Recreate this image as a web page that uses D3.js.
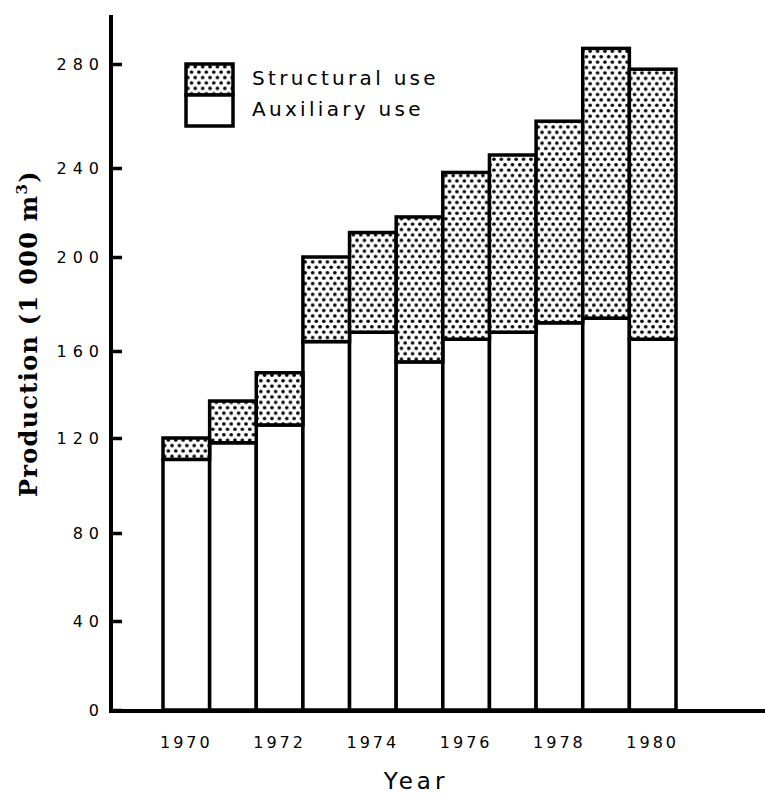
<!DOCTYPE html>
<html>
<head>
<meta charset="utf-8">
<script src="https://cdn.jsdelivr.net/npm/d3@7"></script>
<style>
  body { margin: 0; background: #fff; }
  svg { display: block; }
</style>
</head>
<body>
<div id="chart"></div>
<script>
// Timber production by use, 1970-1980 (1 000 m3)
const years = [1970, 1971, 1972, 1973, 1974, 1975, 1976, 1977, 1978, 1979, 1980];
const auxiliary = [111, 118, 126, 164, 168, 155, 165, 168, 172, 174, 165];
const structural = [9, 19, 24, 36, 43, 63, 73, 77, 86, 112, 113];
const yTicks = [0, 40, 80, 120, 160, 200, 240, 280];
const yearLabels = [1970, 1972, 1974, 1976, 1978, 1980];
const legendNames = ["Structural use", "Auxiliary use"];

function drawChart(containerId = "#chart") {
    const width = 765;
    const height = 796;

    const svg = d3.select(containerId)
        .html("")
        .append("svg")
        .attr("width", width)
        .attr("height", height);

    svg.append("rect")
        .attr("width", width)
        .attr("height", height)
        .attr("fill", "#fff");

    // dotted screen used for structural use
    const pattern = svg.append("defs")
        .append("pattern")
        .attr("id", "dots")
        .attr("patternUnits", "userSpaceOnUse")
        .attr("width", 7.4)
        .attr("height", 10.8);
    pattern.append("rect")
        .attr("width", 7.4)
        .attr("height", 10.8)
        .attr("fill", "#fff");
    pattern.append("circle").attr("cx", 1.85).attr("cy", 2.7).attr("r", 1.8).attr("fill", "#000");
    pattern.append("circle").attr("cx", 5.55).attr("cy", 8.1).attr("r", 1.8).attr("fill", "#000");

    const table = years.map((year, i) => ({
        year,
        auxiliary: auxiliary[i],
        structural: structural[i]
    }));

    const stacked = d3.stack().keys(["auxiliary", "structural"])(table);

    const x = d3.scaleBand()
        .domain(years)
        .range([163, 676])
        .padding(0);

    // the printed axis is not evenly spaced, so map each tick to where it sits
    const y = d3.scaleLinear()
        .domain(yTicks)
        .range([710, 621, 533, 438, 351, 257, 168, 64]);

    // Bars
    svg.append("g")
        .selectAll("g")
        .data(stacked)
        .join("g")
        .attr("fill", d => d.key === "structural" ? "url(#dots)" : "#fff")
        .selectAll("rect")
        .data(d => d)
        .join("rect")
        .attr("x", d => x(d.data.year))
        .attr("y", d => y(d[1]))
        .attr("width", x.bandwidth())
        .attr("height", d => y(d[0]) - y(d[1]))
        .attr("stroke", "#000")
        .attr("stroke-width", 3.5);

    // Y axis
    const yAxis = svg.append("g")
        .attr("transform", "translate(111,0)")
        .call(d3.axisLeft(y).tickValues(yTicks).tickSize(-11).tickPadding(6));
    yAxis.select(".domain").remove();
    yAxis.selectAll(".tick line")
        .attr("stroke", "#000")
        .attr("stroke-width", 3.5);
    yAxis.selectAll(".tick text")
        .attr("fill", "#000")
        .style("font-family", "'DejaVu Sans', sans-serif")
        .style("font-size", "16px")
        .style("letter-spacing", "6px");

    svg.append("line")
        .attr("x1", 111).attr("x2", 111)
        .attr("y1", 15).attr("y2", 712)
        .attr("stroke", "#000")
        .attr("stroke-width", 4);

    // X axis
    const xAxis = svg.append("g")
        .attr("transform", "translate(0,710)")
        .call(d3.axisBottom(x).tickValues(yearLabels).tickSize(0));
    xAxis.select(".domain").remove();
    xAxis.selectAll(".tick text")
        .attr("fill", "#000")
        .attr("dy", null)
        .attr("y", 38)
        .style("font-family", "'DejaVu Sans', sans-serif")
        .style("font-size", "16px")
        .style("letter-spacing", "3px");

    svg.append("line")
        .attr("x1", 109).attr("x2", 765)
        .attr("y1", 711).attr("y2", 711)
        .attr("stroke", "#000")
        .attr("stroke-width", 4);

    // Legend
    const legend = svg.append("g").attr("transform", "translate(186,64)");
    legend.append("rect")
        .attr("width", 47).attr("height", 31)
        .attr("fill", "url(#dots)")
        .attr("stroke", "#000").attr("stroke-width", 3.5);
    legend.append("rect")
        .attr("y", 31)
        .attr("width", 47).attr("height", 31)
        .attr("fill", "#fff")
        .attr("stroke", "#000").attr("stroke-width", 3.5);
    legend.selectAll("text")
        .data(legendNames)
        .join("text")
        .attr("x", 66)
        .attr("y", (d, i) => 21 + i * 31)
        .text(d => d)
        .style("font-family", "'DejaVu Sans', sans-serif")
        .style("font-size", "20px")
        .style("letter-spacing", "3.3px");

    // X-axis label
    svg.append("text")
        .attr("text-anchor", "middle")
        .attr("x", 416)
        .attr("y", 789)
        .text("Year")
        .style("font-family", "'DejaVu Sans', sans-serif")
        .style("font-size", "23px")
        .style("letter-spacing", "4px");

    // Y-axis label
    const yLabel = svg.append("text")
        .attr("transform", "translate(37,497) rotate(-90)")
        .style("font-family", "'DejaVu Serif', serif")
        .style("font-size", "24px")
        .style("font-weight", "bold")
        .style("letter-spacing", "1.3px");
    yLabel.append("tspan").text("Production (1 000 m");
    yLabel.append("tspan")
        .attr("dy", -10)
        .style("font-size", "15px")
        .text("3");
    yLabel.append("tspan")
        .attr("dy", 10)
        .text(")");
}

drawChart();
</script>
</body>
</html>
